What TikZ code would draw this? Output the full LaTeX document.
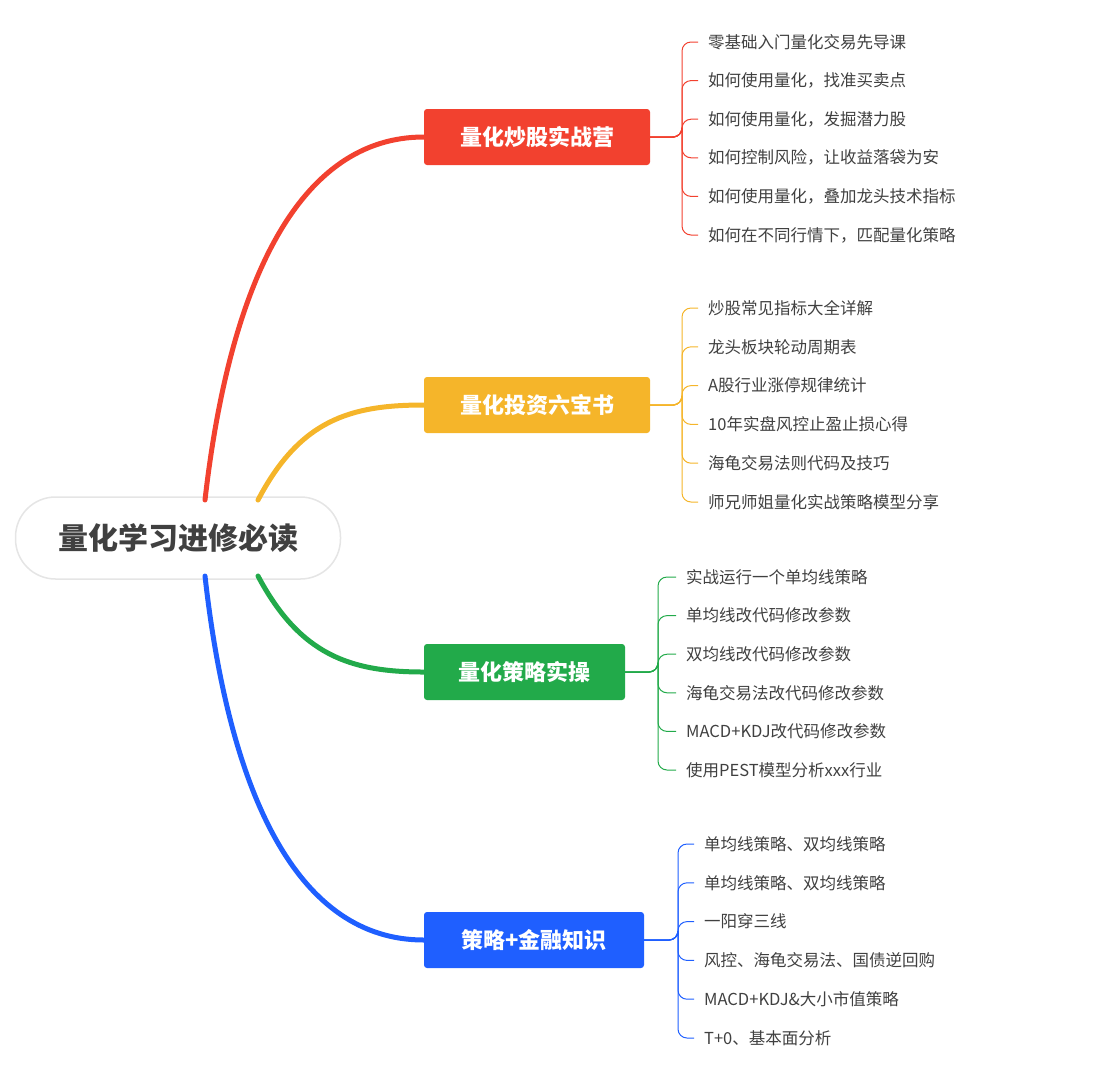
\documentclass[tikz,border=0pt]{standalone}
\usepackage{fontspec}
\setmainfont{Noto Sans CJK SC}
\definecolor{cR}{HTML}{F2412F}
\definecolor{cY}{HTML}{F5B52A}
\definecolor{cG}{HTML}{22AA4A}
\definecolor{cB}{HTML}{1F5FFF}
\definecolor{txt}{HTML}{404040}
\tikzset{
 br/.style={rounded corners=3pt,minimum height=56pt,text=white,font=\fontsize{22}{26}\selectfont\bfseries,inner xsep=0pt},
 leaf/.style={anchor=west,text=txt,font=\fontsize{16.5}{20}\selectfont,inner sep=0pt},
 main/.style={line width=5pt,line cap=round},
 thin/.style={line width=1pt,rounded corners=9pt}
}
\begin{document}
\begin{tikzpicture}[x=1pt,y=-1pt]
\useasboundingbox (0,0) rectangle (1106,1080);
\node[draw=black!10,line width=1.5pt,fill=white,rounded corners=40pt,minimum width=325pt,minimum height=82pt,text=txt,font=\fontsize{30}{34}\selectfont\bfseries] (root) at (178,538) {量化学习进修必读};
\node[br,fill=cR,minimum width=226pt] (b1) at (537,137) {量化炒股实战营};
\node[br,fill=cY,minimum width=226pt] (b2) at (537,405) {量化投资六宝书};
\node[br,fill=cG,minimum width=201pt] (b3) at (524.5,672) {量化策略实操};
\node[br,fill=cB,minimum width=220pt] (b4) at (534,940) {策略+金融知识};
\begin{scope}[on background layer/.try]
\draw[main,cR] (205,500) .. controls (230,280) and (300,137) .. (b1.west);
\draw[main,cY] (258,500) .. controls (300,420) and (350,405) .. (b2.west);
\draw[main,cG] (258,576) .. controls (300,655) and (350,672) .. (b3.west);
\draw[main,cB] (205,576) .. controls (230,800) and (300,940) .. (b4.west);
\end{scope}
% leaves
\foreach \t [count=\i, evaluate=\i as \y using {42+(\i-1)*38.6}] in {零基础入门量化交易先导课,如何使用量化，找准买卖点,如何使用量化，发掘潜力股,如何控制风险，让收益落袋为安,如何使用量化，叠加龙头技术指标,如何在不同行情下，匹配量化策略}
 {\node[leaf] (r\i) at (708,\y) {\t};
  \draw[thin,cR] (b1.east) -- (665,137) -| (682,137) |- ([xshift=-10pt]r\i.west);}
\foreach \t [count=\i, evaluate=\i as \y using {308+(\i-1)*38.8}] in {炒股常见指标大全详解,龙头板块轮动周期表,A股行业涨停规律统计,10年实盘风控止盈止损心得,海龟交易法则代码及技巧,师兄师姐量化实战策略模型分享}
 {\node[leaf] (y\i) at (708,\y) {\t};
  \draw[thin,cY] (b2.east) -- (665,405) -| (682,405) |- ([xshift=-10pt]y\i.west);}
\foreach \t [count=\i, evaluate=\i as \y using {577+(\i-1)*38.6}] in {实战运行一个单均线策略,单均线改代码修改参数,双均线改代码修改参数,海龟交易法改代码修改参数,MACD+KDJ改代码修改参数,使用PEST模型分析xxx行业}
 {\node[leaf] (g\i) at (686,\y) {\t};
  \draw[thin,cG] (b3.east) -- (640,672) -| (658,672) |- ([xshift=-10pt]g\i.west);}
\foreach \t [count=\i, evaluate=\i as \y using {844+(\i-1)*38.8}] in {单均线策略、双均线策略,单均线策略、双均线策略,一阳穿三线,风控、海龟交易法、国债逆回购,MACD+KDJ\&大小市值策略,T+0、基本面分析}
 {\node[leaf] (u\i) at (704,\y) {\t};
  \draw[thin,cB] (b4.east) -- (660,940) -| (678,940) |- ([xshift=-10pt]u\i.west);}
\end{tikzpicture}
\end{document}
